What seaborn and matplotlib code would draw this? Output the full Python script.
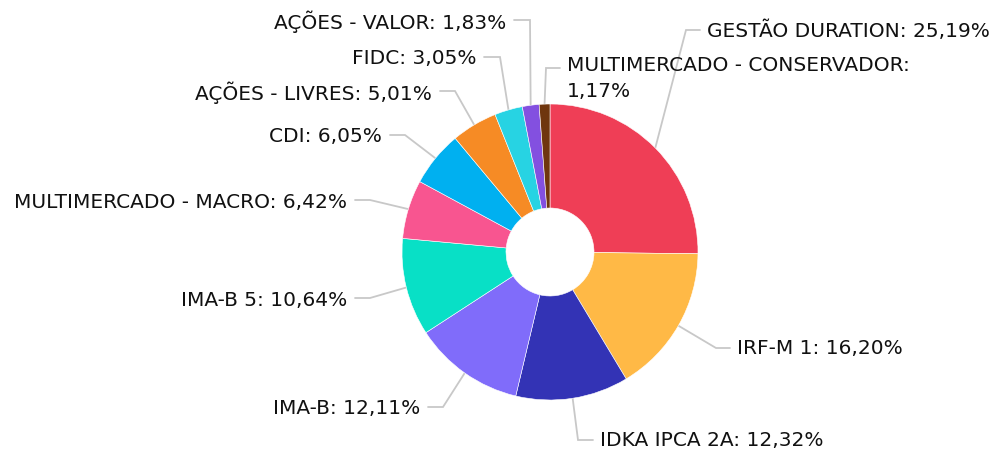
import numpy as np
import matplotlib
matplotlib.use("Agg")
import matplotlib.pyplot as plt
import seaborn as sns

# dados da carteira (%)
categorias = ['GESTÃO DURATION', 'IRF-M 1', 'IDKA IPCA 2A', 'IMA-B', 'IMA-B 5',
              'MULTIMERCADO - MACRO', 'CDI', 'AÇÕES - LIVRES', 'FIDC',
              'AÇÕES - VALOR', 'MULTIMERCADO - CONSERVADOR']
valores = [25.19, 16.20, 12.32, 12.11, 10.64, 6.42, 6.05, 5.01, 3.05, 1.83, 1.17]
cores = ['#EF3E56', '#FFB946', '#3333B5', '#806CFA', '#08E0C6', '#F85590',
         '#00B0F0', '#F68B25', '#27D3E3', '#8350E0', '#6F360E']

sns.set_theme(style="white")
plt.rcParams['font.family'] = ['DejaVu Sans']
paleta = sns.color_palette(cores)

W, H = 994, 454
fig = plt.figure(figsize=(W / 100, H / 100), dpi=100)
ax = fig.add_axes([0, 0, 1, 1])

cx, cy, R, r_in = 550, 252, 148, 44
fs = 14.5

# y invertido -> counterclock=True fica horario na tela; start no topo
wedges, _ = ax.pie(valores, colors=paleta, center=(cx, cy), radius=R,
                   startangle=-90, counterclock=True,
                   wedgeprops=dict(width=R - r_in, edgecolor='white', linewidth=0.4),
                   frame=True)
ax.set_xlim(0, W)
ax.set_ylim(H, 0)
ax.set_aspect('equal')
ax.axis('off')

# layout dos rotulos: (cotovelo x, y, fim horizontal x, lado)
layout = [
    (686, 30, 700, 'r'),
    (716, 348, 730, 'r'),
    (578, 440, 593, 'r'),
    (443, 407, 428, 'l'),
    (370, 298, 355, 'l'),
    (370, 200, 355, 'l'),
    (405, 135, 390, 'l'),
    (455, 91, 440, 'l'),
    (500, 57, 484, 'l'),
    (530, 20, 514, 'l'),
    (546, 68, 560, 'r'),
]

acum = np.cumsum([0] + valores[:-1])
tot = sum(valores)
for i, (cat, v) in enumerate(zip(categorias, valores)):
    meio = (acum[i] + v / 2) / tot * 2 * np.pi
    ex = cx + R * np.sin(meio)
    ey = cy - R * np.cos(meio)
    bx, by, hx, lado = layout[i]
    ax.plot([ex, bx, hx], [ey, by, by], color='#C8C8C8', lw=1.3,
            solid_joinstyle='miter', zorder=0)
    txt = f"{cat}: {v:.2f}%".replace('.', ',')
    if cat == 'MULTIMERCADO - CONSERVADOR':
        txt = f"{cat}:\n{v:.2f}%".replace('.', ',')
        ax.text(hx + 7, by - 12, txt, ha='left', va='top', fontsize=fs,
                color='#111111', linespacing=1.45)
        continue
    if lado == 'r':
        ax.text(hx + 7, by + 1, txt, ha='left', va='center', fontsize=fs,
                color='#111111')
    else:
        ax.text(hx - 8, by + 2, txt, ha='right', va='center', fontsize=fs,
                color='#111111')

fig.savefig('out.png', dpi=100, facecolor='white')
